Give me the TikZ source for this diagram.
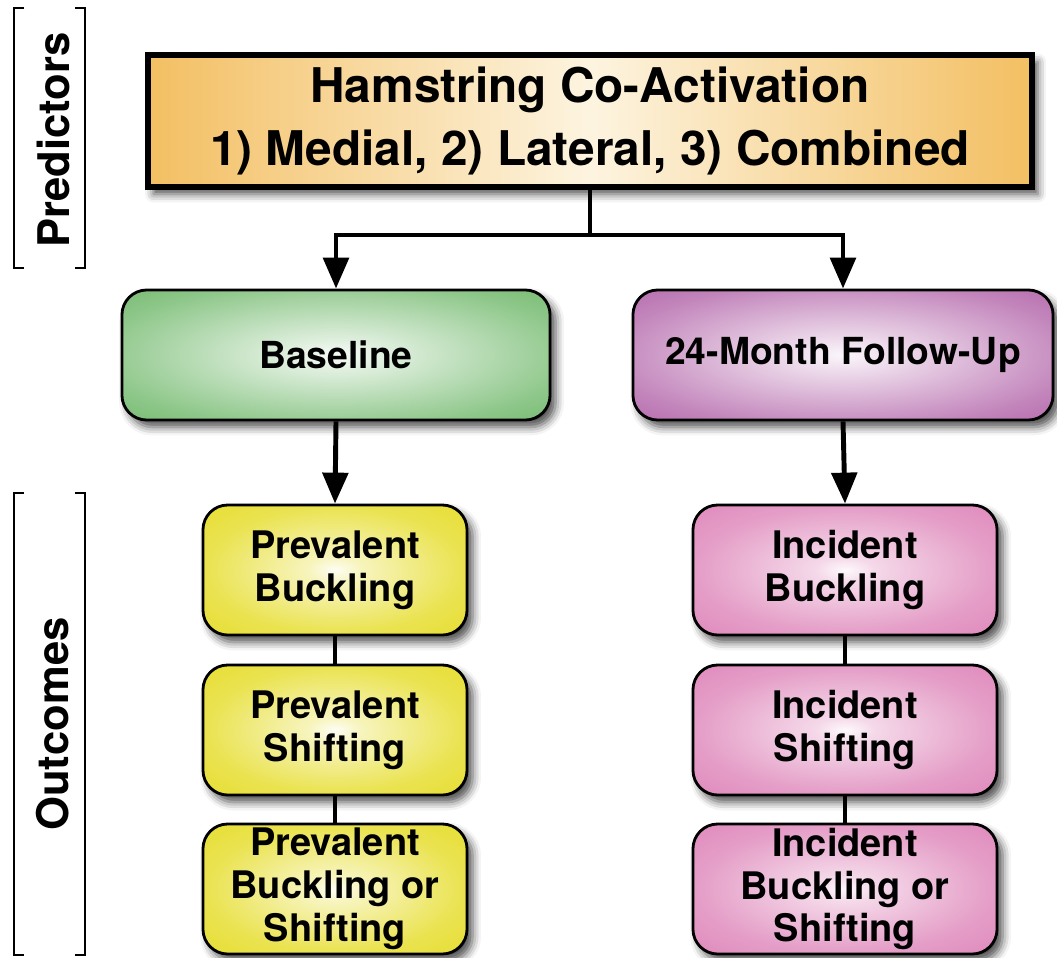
\documentclass[tikz,border=0pt]{standalone}
\usepackage{fontspec}
\setmainfont{TeX Gyre Heros}
\usetikzlibrary{arrows.meta,positioning,shadows.blur}

\definecolor{coactedge}{HTML}{F3BF62}
\definecolor{coactmid}{HTML}{FDF4E0}
\definecolor{basegreen}{HTML}{5DAF57}
\definecolor{followpurple}{HTML}{A8509E}
\definecolor{prevyellow}{HTML}{E5DC26}
\definecolor{incpink}{HTML}{DC7EB5}

% soft glows, white in the middle
\pgfdeclareradialshading{greenglow}{\pgfpoint{0bp}{0bp}}{color(0bp)=(white!95!basegreen); color(6bp)=(white!80!basegreen); color(28bp)=(white!30!basegreen); color(46bp)=(basegreen); color(60bp)=(basegreen)}
\pgfdeclareradialshading{purpleglow}{\pgfpoint{0bp}{0bp}}{color(0bp)=(white!95!followpurple); color(6bp)=(white!80!followpurple); color(28bp)=(white!30!followpurple); color(46bp)=(followpurple); color(60bp)=(followpurple)}
\pgfdeclareradialshading{yellowglow}{\pgfpoint{0bp}{0bp}}{color(0bp)=(white!95!prevyellow); color(5bp)=(white!70!prevyellow); color(24bp)=(white!20!prevyellow); color(40bp)=(prevyellow); color(60bp)=(prevyellow)}
\pgfdeclareradialshading{pinkglow}{\pgfpoint{0bp}{0bp}}{color(0bp)=(white!95!incpink); color(5bp)=(white!70!incpink); color(24bp)=(white!25!incpink); color(42bp)=(incpink); color(60bp)=(incpink)}

\begin{document}
\begin{tikzpicture}[x=0.025cm,y=-0.025cm,
  every node/.style={font=\bfseries,align=center,text=black},
  softshadow/.style={blur shadow={shadow xshift=4pt,shadow yshift=-5pt,shadow blur radius=6pt,shadow opacity=70}},
  coactbox/.style={draw=black,line width=4pt,left color=coactedge,right color=coactedge,middle color=coactmid,
    minimum width=22.1cm,minimum height=3.3cm,inner sep=0pt,softshadow,font=\bfseries\fontsize{34}{45}\selectfont},
  timebox/.style={draw=black,line width=2pt,rounded corners=0.62cm,
    minimum height=3.25cm,inner sep=0pt,softshadow,font=\bfseries\fontsize{26.5}{32}\selectfont},
  outbox/.style={draw=black,line width=2pt,rounded corners=0.62cm,
    minimum height=3.25cm,inner sep=0pt,softshadow,font=\bfseries\fontsize{27}{30.5}\selectfont},
  prevbox/.style={outbox,shading=yellowglow,minimum width=6.6cm},
  incbox/.style={outbox,shading=pinkglow,minimum width=7.6cm},
  link/.style={line width=3.5pt},
  arrow/.style={line width=3.5pt,-{Triangle[width=18pt,length=22pt]}},
  bracket/.style={line width=1.6pt},
  side/.style={rotate=90,font=\bfseries\fontsize{31}{36}\selectfont}]
\useasboundingbox (0,0) rectangle (1057,958);

% predictors
\node[coactbox] (coact) at (590,121) {Hamstring Co-Activation\\1) Medial, 2) Lateral, 3) Combined};
\node[timebox,shading=greenglow,minimum width=10.7cm] (baseline) at (336,355) {Baseline};
\node[timebox,shading=purpleglow,minimum width=10.5cm] (followup) at (843,355) {24-Month Follow-Up};

% outcomes
\node[prevbox] (prevbuck) at (335,570) {Prevalent\\Buckling};
\node[prevbox] (prevshift) at (335,730) {Prevalent\\Shifting};
\node[prevbox] (prevboth) at (335,889) {Prevalent\\Buckling or\\Shifting};
\node[incbox] (incbuck) at (845,570) {Incident\\Buckling};
\node[incbox] (incshift) at (845,730) {Incident\\Shifting};
\node[incbox] (incboth) at (845,889) {Incident\\Buckling or\\Shifting};

\coordinate (split) at (590,235);
\draw[link] (coact.south) -- (split);
\draw[arrow] (split) -| (baseline.north);
\draw[arrow] (split) -| (followup.north);
\draw[arrow] (baseline.south) -- (prevbuck.north);
\draw[arrow] (followup.south) -- (incbuck.north);
\draw[link] (prevbuck.south) -- (prevshift.north);
\draw[link] (prevshift.south) -- (prevboth.north);
\draw[link] (incbuck.south) -- (incshift.north);
\draw[link] (incshift.south) -- (incboth.north);

% side brackets
\node[side] (predlabel) at (53,140) {Predictors};
\node[side] (outlabel) at (53,724) {Outcomes};
\draw[bracket] (24,8) -| (14,268) -- (24,268);
\draw[bracket] (75,8) -| (85,268) -- (75,268);
\draw[bracket] (24,493) -| (14,955) -- (24,955);
\draw[bracket] (75,493) -| (85,955) -- (75,955);

\end{tikzpicture}
\end{document}
